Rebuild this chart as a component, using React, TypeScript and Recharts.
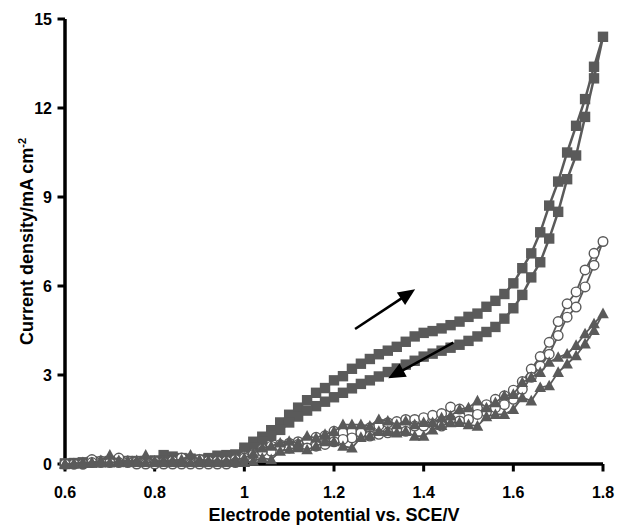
import React from 'react';
import { ScatterChart, Scatter, XAxis, YAxis } from 'recharts';

const potentials = [
  0.60, 0.62, 0.64, 0.66, 0.68, 0.70, 0.72, 0.74, 0.76, 0.78,
  0.80, 0.82, 0.84, 0.86, 0.88, 0.90, 0.92, 0.94, 0.96, 0.98,
  1.00, 1.02, 1.04, 1.06, 1.08, 1.10, 1.12, 1.14, 1.16, 1.18,
  1.20, 1.22, 1.24, 1.26, 1.28, 1.30, 1.32, 1.34, 1.36, 1.38,
  1.40, 1.42, 1.44, 1.46, 1.48, 1.50, 1.52, 1.54, 1.56, 1.58,
  1.60, 1.62, 1.64, 1.66, 1.68, 1.70, 1.72, 1.74, 1.76, 1.78, 1.80,
];

const squareForward = [
  0.00, 0.03, 0.05, 0.08, 0.08, 0.10, 0.10, 0.10, 0.10, 0.10,
  0.12, 0.30, 0.25, 0.20, 0.18, 0.15, 0.20, 0.28, 0.30, 0.32,
  0.55, 0.75, 0.92, 1.14, 1.40, 1.66, 1.90, 2.15, 2.40, 2.56,
  2.82, 2.96, 3.21, 3.38, 3.54, 3.70, 3.82, 3.95, 4.12, 4.30,
  4.42, 4.48, 4.57, 4.68, 4.80, 4.96, 5.07, 5.30, 5.50, 5.73,
  6.09, 6.60, 7.10, 7.81, 8.71, 9.52, 10.50, 11.40, 12.30, 13.39, 14.40,
];

const squareReverse = [
  0.02, 0.03, 0.05, 0.05, 0.06, 0.06, 0.07, 0.07, 0.08, 0.08,
  0.08, 0.10, 0.10, 0.10, 0.12, 0.12, 0.15, 0.20, 0.25, 0.30,
  0.40, 0.55, 0.75, 0.95, 1.15, 1.40, 1.60, 1.80, 1.95, 2.10,
  2.25, 2.40, 2.55, 2.70, 2.82, 2.95, 3.10, 3.22, 3.35, 3.48,
  3.62, 3.72, 3.82, 3.92, 4.02, 4.15, 4.30, 4.45, 4.62, 4.90,
  5.25, 5.70, 6.29, 6.80, 7.60, 8.50, 9.60, 10.40, 11.70, 13.00, 14.40,
];

const circleForward = [
  0.00, 0.00, 0.00, 0.15, 0.10, 0.08, 0.20, 0.10, 0.08, 0.10,
  0.08, 0.05, 0.10, 0.20, 0.12, 0.15, 0.10, 0.10, 0.10, 0.15,
  0.25, 0.35, 0.50, 0.60, 0.65, 0.70, 0.75, 0.80, 0.90, 0.95,
  1.10, 1.05, 1.10, 1.15, 1.22, 1.30, 1.39, 1.43, 1.50, 1.50,
  1.56, 1.64, 1.70, 1.92, 1.85, 1.75, 1.90, 2.00, 2.18, 2.30,
  2.49, 2.78, 3.20, 3.62, 4.10, 4.80, 5.40, 5.80, 6.54, 7.10, 7.50,
];

const circleReverse = [
  0.00, 0.00, 0.00, 0.05, 0.05, 0.05, 0.05, 0.05, 0.00, 0.00,
  0.00, 0.00, 0.00, 0.00, 0.00, 0.00, 0.00, 0.00, 0.00, 0.05,
  0.20, 0.32, 0.43, 0.43, 0.60, 0.54, 0.66, 0.54, 0.60, 0.66,
  0.75, 0.83, 0.88, 1.05, 0.94, 1.00, 1.05, 1.15, 1.10, 1.28,
  1.28, 1.35, 1.28, 1.50, 1.45, 1.50, 1.67, 1.75, 1.90, 2.00,
  2.18, 2.52, 2.92, 3.30, 3.70, 4.33, 4.95, 5.29, 5.97, 6.70, 7.50,
];

const triangleForward = [
  0.00, 0.02, 0.05, 0.05, 0.12, 0.30, 0.12, 0.10, 0.12, 0.30,
  0.10, 0.10, 0.12, 0.15, 0.30, 0.15, 0.12, 0.10, 0.10, 0.15,
  0.20, 0.35, 0.54, 0.60, 0.71, 0.77, 0.71, 0.94, 0.88, 1.00,
  1.10, 1.33, 1.33, 1.33, 1.28, 1.50, 1.45, 1.33, 1.45, 1.33,
  1.40, 1.40, 1.56, 1.62, 1.84, 1.90, 2.13, 1.90, 2.07, 2.30,
  2.35, 2.75, 2.92, 3.09, 3.43, 3.60, 3.71, 4.00, 4.39, 4.73, 5.07,
];

const triangleReverse = [
  0.00, 0.00, 0.02, 0.03, 0.05, 0.05, 0.05, 0.05, 0.05, 0.05,
  0.05, 0.05, 0.05, 0.05, 0.05, 0.05, 0.05, 0.05, 0.05, 0.05,
  0.05, 0.10, 0.20, 0.15, 0.43, 0.50, 0.55, 0.48, 0.60, 0.75,
  0.75, 0.60, 0.54, 0.90, 0.95, 1.10, 1.10, 1.05, 1.10, 0.94,
  0.94, 1.15, 1.30, 1.39, 1.40, 1.33, 1.28, 1.60, 1.67, 1.67,
  1.84, 2.24, 2.13, 2.58, 2.64, 3.09, 3.37, 3.65, 4.05, 4.50, 5.07,
];

const xTicks = [0.6, 0.8, 1, 1.2, 1.4, 1.6, 1.8];
const yTicks = [0, 3, 6, 9, 12, 15];
const xDomain = [0.6, 1.8];
const yDomain = [0, 15];

const arrowUp = [{ x: 1.247, y: 4.55 }, { x: 1.381, y: 5.89 }];
const arrowDown = [{ x: 1.466, y: 4.09 }, { x: 1.321, y: 2.89 }];

const xTitle = 'Electrode potential vs. SCE/V';
const yTitle = 'Current density/mA cm';
const yTitleSup = '-2';

const loop = (fwd: number[], rev: number[]) => {
  const out: { x: number; y: number }[] = [];
  potentials.forEach((p, i) => out.push({ x: p, y: fwd[i] }));
  for (let i = potentials.length - 2; i >= 0; i--) out.push({ x: potentials[i], y: rev[i] });
  return out;
};

const squareData = loop(squareForward, squareReverse);
const circleData = loop(circleForward, circleReverse);
const triangleData = loop(triangleForward, triangleReverse);

const xAxisLineData = [{ x: xDomain[0], y: yDomain[0] }, { x: xDomain[1], y: yDomain[0] }];
const yAxisLineData = [{ x: xDomain[0], y: yDomain[0] }, { x: xDomain[0], y: yDomain[1] }];
const xTickMarks = xTicks.map((t) => ({ x: t, y: yDomain[0] }));
const yTickMarks = yTicks.map((t) => ({ x: xDomain[0], y: t }));

const GRAY = '#5a5a5a';
const FONT = '"Liberation Sans", Arial, Helvetica, sans-serif';

const SquareShape = (props: any) => {
  const { cx, cy } = props;
  if (cx == null || cy == null) return null;
  return <rect x={cx - 5.2} y={cy - 5.2} width={10.4} height={10.4} fill={GRAY} />;
};

const CircleShape = (props: any) => {
  const { cx, cy } = props;
  if (cx == null || cy == null) return null;
  return <circle cx={cx} cy={cy} r={4.8} fill="#fff" stroke={GRAY} strokeWidth={1.4} />;
};

const TriangleShape = (props: any) => {
  const { cx, cy } = props;
  if (cx == null || cy == null) return null;
  return (
    <polygon
      points={`${cx},${cy - 6} ${cx + 5.8},${cy + 4.6} ${cx - 5.8},${cy + 4.6}`}
      fill={GRAY}
    />
  );
};

const XTickShape = (props: any) => {
  const { cx, cy } = props;
  if (cx == null || cy == null) return null;
  return <line x1={cx} y1={cy} x2={cx} y2={cy + 7.5} stroke="#000" strokeWidth={3} />;
};

const YTickShape = (props: any) => {
  const { cx, cy } = props;
  if (cx == null || cy == null) return null;
  return <line x1={cx - 7.5} y1={cy} x2={cx} y2={cy} stroke="#000" strokeWidth={3} />;
};

const NoShape = () => <g />;

const ArrowLine = (props: any) => {
  const pts = props.points || [];
  if (pts.length < 2) return null;
  const { x: x1, y: y1 } = pts[0];
  const { x: x2, y: y2 } = pts[1];
  if ([x1, y1, x2, y2].some((v) => v == null || isNaN(v))) return null;
  const dx = x2 - x1;
  const dy = y2 - y1;
  const len = Math.sqrt(dx * dx + dy * dy);
  const ux = dx / len;
  const uy = dy / len;
  const headLen = 17;
  const headW = 7.5;
  const bx = x2 - ux * headLen;
  const by = y2 - uy * headLen;
  const px = -uy;
  const py = ux;
  return (
    <g>
      <line x1={x1} y1={y1} x2={bx + ux * 2} y2={by + uy * 2} stroke="#000" strokeWidth={2.6} />
      <polygon
        points={`${x2},${y2} ${bx + px * headW},${by + py * headW} ${bx - px * headW},${by - py * headW}`}
        fill="#000"
      />
    </g>
  );
};

const XTitle = (props: any) => {
  const vb = props.viewBox || {};
  const cx = vb.x + vb.width / 2;
  return (
    <text x={cx} y={521} textAnchor="middle" fontFamily={FONT} fontWeight="bold" fontSize={18} fill="#000">
      {xTitle}
    </text>
  );
};

const YTitle = (props: any) => {
  const vb = props.viewBox || {};
  const cy = vb.y + vb.height / 2;
  const x = 33;
  return (
    <text
      x={x}
      y={cy}
      transform={`rotate(-90, ${x}, ${cy})`}
      textAnchor="middle"
      fontFamily={FONT}
      fontWeight="bold"
      fontSize={18}
      fill="#000"
    >
      {yTitle}
      <tspan dy={-7} fontSize={11}>{yTitleSup}</tspan>
    </text>
  );
};

const tickStyle = { fill: '#000', fontSize: 16, fontWeight: 'bold', fontFamily: FONT };

export default function App() {
  return (
    <div style={{ position: 'absolute', left: 0, top: 0, background: '#fff' }}>
      <ScatterChart width={617} height={526} margin={{ top: 19, right: 14, bottom: 0, left: 0 }}>
        <XAxis
          type="number"
          dataKey="x"
          domain={xDomain}
          ticks={xTicks}
          tickFormatter={(v: number) => String(v)}
          height={62}
          axisLine={false}
          tickLine={false}
          tickSize={7}
          tickMargin={16}
          tick={tickStyle}
          label={{ content: XTitle }}
        />
        <YAxis
          type="number"
          dataKey="y"
          domain={yDomain}
          ticks={yTicks}
          width={65}
          axisLine={false}
          tickLine={false}
          tickSize={7}
          tickMargin={6}
          tick={tickStyle}
          label={{ content: YTitle }}
        />
        <Scatter data={xAxisLineData} line={{ stroke: '#000', strokeWidth: 3.5 }} shape={NoShape} isAnimationActive={false} />
        <Scatter data={yAxisLineData} line={{ stroke: '#000', strokeWidth: 3.5 }} shape={NoShape} isAnimationActive={false} />
        <Scatter data={xTickMarks} shape={XTickShape} isAnimationActive={false} />
        <Scatter data={yTickMarks} shape={YTickShape} isAnimationActive={false} />
        <Scatter
          data={squareData}
          fill={GRAY}
          line={{ stroke: GRAY, strokeWidth: 2.5 }}
          shape={SquareShape}
          isAnimationActive={false}
        />
        <Scatter
          data={circleData}
          fill={GRAY}
          line={{ stroke: GRAY, strokeWidth: 1.8 }}
          shape={CircleShape}
          isAnimationActive={false}
        />
        <Scatter
          data={triangleData}
          fill={GRAY}
          line={{ stroke: GRAY, strokeWidth: 1.8 }}
          shape={TriangleShape}
          isAnimationActive={false}
        />
        <Scatter data={arrowUp} line={ArrowLine} shape={NoShape} isAnimationActive={false} />
        <Scatter data={arrowDown} line={ArrowLine} shape={NoShape} isAnimationActive={false} />
      </ScatterChart>
    </div>
  );
}
